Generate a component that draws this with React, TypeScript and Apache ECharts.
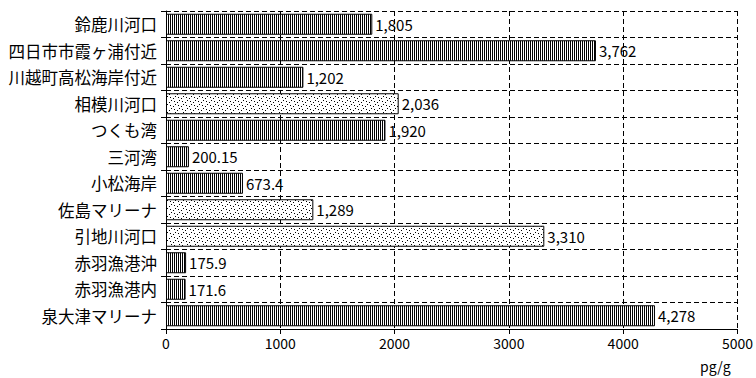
import React, { useEffect, useRef } from "react";
import * as echarts from "echarts";

const categories = [
  "鈴鹿川河口",
  "四日市市霞ヶ浦付近",
  "川越町高松海岸付近",
  "相模川河口",
  "つくも湾",
  "三河湾",
  "小松海岸",
  "佐島マリーナ",
  "引地川河口",
  "赤羽漁港沖",
  "赤羽漁港内",
  "泉大津マリーナ",
];
const values = [1805, 3762, 1202, 2036, 1920, 200.15, 673.4, 1289, 3310, 175.9, 171.6, 4278];
// 0 = vertical stripes, 1 = dotted
const patternKind = [0, 0, 0, 1, 0, 0, 0, 1, 1, 0, 0, 0];
const xTicks = [0, 1000, 2000, 3000, 4000, 5000];
const unitLabel = "pg/g";

const FONT = "'Noto Sans CJK JP', 'Noto Sans', sans-serif";

function makeStripe(): HTMLCanvasElement {
  const c = document.createElement("canvas");
  c.width = 2;
  c.height = 2;
  const ctx = c.getContext("2d")!;
  ctx.fillStyle = "#ffffff";
  ctx.fillRect(0, 0, 2, 2);
  ctx.fillStyle = "#000000";
  ctx.fillRect(0, 0, 1, 2);
  return c;
}

function makeDots(): HTMLCanvasElement {
  const c = document.createElement("canvas");
  c.width = 8;
  c.height = 8;
  const ctx = c.getContext("2d")!;
  ctx.fillStyle = "#ffffff";
  ctx.fillRect(0, 0, 8, 8);
  ctx.fillStyle = "#000000";
  const pts = [
    [7, 0],
    [5, 2],
    [3, 4],
    [1, 6],
    [2, 1],
    [6, 5],
  ];
  pts.forEach(([x, y]) => ctx.fillRect(x, y, 1, 1));
  return c;
}

export default function App() {
  const ref = useRef<HTMLDivElement>(null);
  useEffect(() => {
    if (!ref.current) return;
    const chart = echarts.init(ref.current, null, { renderer: "svg" });
    const stripe = { image: makeStripe().toDataURL(), repeat: "repeat" };
    const dots = { image: makeDots().toDataURL(), repeat: "repeat" };
    const fmt = (v: number) => v.toLocaleString("en-US", { maximumFractionDigits: 3 });
    chart.setOption({
      animation: false,
      backgroundColor: "#ffffff",
      grid: { left: 166, right: 18, top: 11, bottom: 49, containLabel: false },
      xAxis: {
        type: "value",
        min: xTicks[0],
        max: xTicks[xTicks.length - 1],
        interval: 1000,
        axisLine: { show: true, lineStyle: { color: "#000", width: 1 } },
        axisTick: { show: true, length: 5, lineStyle: { color: "#000" } },
        axisLabel: {
          color: "#000",
          fontFamily: FONT,
          fontSize: 14,
          margin: 7,
          formatter: (v: number) => String(v),
        },
        splitLine: { show: true, lineStyle: { color: "#000", type: [5, 3], width: 1 } },
      },
      yAxis: {
        type: "category",
        data: categories,
        inverse: true,
        axisLine: { show: true, lineStyle: { color: "#000", width: 1 } },
        axisTick: { show: true, length: 5, lineStyle: { color: "#000" } },
        axisLabel: { color: "#000", fontFamily: FONT, fontSize: 16.5, margin: 9 },
        splitLine: { show: true, lineStyle: { color: "#000", type: [5, 3], width: 1 } },
      },
      series: [
        {
          type: "bar",
          barWidth: 21,
          data: values.map((v, i) => ({
            value: v,
            itemStyle: {
              color: patternKind[i] === 1 ? dots : stripe,
              borderColor: "#000",
              borderWidth: 1,
            },
          })),
          label: {
            show: true,
            position: "right",
            distance: 3,
            color: "#000",
            fontFamily: FONT,
            fontSize: 15,
            formatter: (p: any) => fmt(p.value),
          },
        },
      ],
      graphic: [
        {
          type: "text",
          left: 700,
          top: 359,
          style: { text: unitLabel, fill: "#000", font: `14px ${FONT}` },
        },
      ],
    });
    return () => chart.dispose();
  }, []);
  return (
    <div
      ref={ref}
      style={{ position: "absolute", left: 0, top: 0, width: 756, height: 378 }}
    />
  );
}
